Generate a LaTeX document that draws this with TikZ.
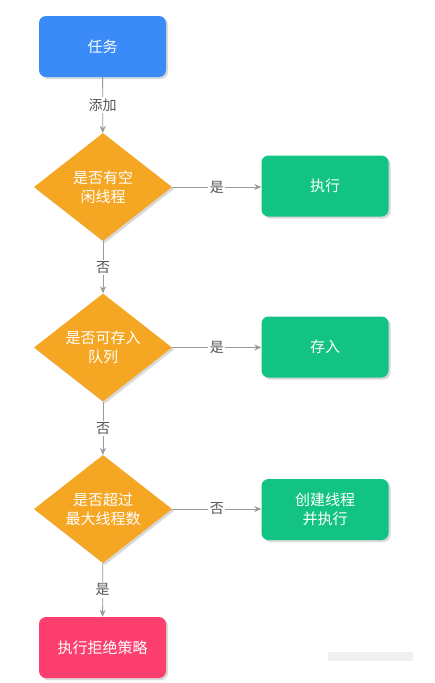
\documentclass[tikz,border=0pt]{standalone}
\usepackage{fontspec}
\setmainfont{Noto Sans CJK SC}
\usetikzlibrary{shapes.geometric,arrows.meta,shadows}
\definecolor{cblue}{HTML}{3A8BF8}
\definecolor{corange}{HTML}{F5A623}
\definecolor{cgreen}{HTML}{12C384}
\definecolor{cred}{HTML}{FD3F6F}
\definecolor{cline}{HTML}{9A9A9A}
\definecolor{clabel}{HTML}{555555}
\begin{document}
\begin{tikzpicture}[x=1pt,y=-1pt,
  shd/.style={drop shadow={shadow xshift=2pt,shadow yshift=-2pt,fill=black!25,opacity=0.6}},
  boxnode/.style={rectangle,rounded corners=7pt,minimum width=127pt,minimum height=61pt,
    text=white,font=\fontsize{15}{19}\selectfont,align=center,inner sep=0pt,shd},
  decnode/.style={diamond,aspect=1.28,minimum width=138pt,minimum height=108pt,fill=corange,
    text=white,font=\fontsize{15}{19}\selectfont,align=center,inner sep=0pt,shd},
  conn/.style={draw=cline,line width=0.8pt,-{Stealth[length=7pt,width=6pt]}},
  lbl/.style={fill=white,text=clabel,font=\fontsize{14}{16}\selectfont,inner sep=1.5pt}]
\useasboundingbox (0,0) rectangle (435,683);
\fill[black!6] (328,652) rectangle (413,661);
\node[boxnode,fill=cblue] (task) at (102.5,46.5) {任务};
\node[decnode] (d1) at (103,187) {是否有空\\闲线程};
\node[decnode] (d2) at (103,347.5) {是否可存入\\队列};
\node[decnode] (d3) at (103,509) {是否超过\\最大线程数};
\node[boxnode,fill=cgreen] (g1) at (325,186) {执行};
\node[boxnode,fill=cgreen] (g2) at (325,347) {存入};
\node[boxnode,fill=cgreen] (g3) at (325,509.5) {创建线程\\并执行};
\node[boxnode,fill=cred] (rej) at (102.5,647.5) {执行拒绝策略};
\draw[conn] (task) -- node[lbl]{添加} (d1);
\draw[conn] (d1) -- node[lbl]{否} (d2);
\draw[conn] (d2) -- node[lbl]{否} (d3);
\draw[conn] (d3) -- node[lbl]{是} (rej);
\draw[conn] (d1) -- node[lbl]{是} (g1.west|-d1);
\draw[conn] (d2) -- node[lbl]{是} (g2.west|-d2);
\draw[conn] (d3) -- node[lbl]{否} (g3.west|-d3);
\end{tikzpicture}
\end{document}
